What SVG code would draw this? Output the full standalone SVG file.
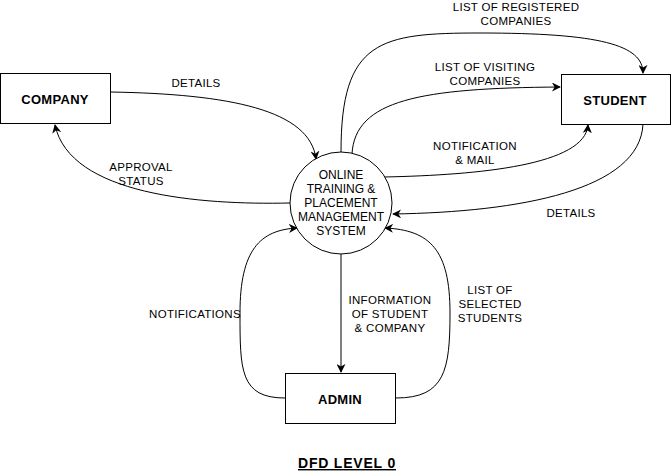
<svg xmlns="http://www.w3.org/2000/svg" width="671" height="474" viewBox="0 0 671 474">
<style>
.box{fill:#fff;stroke:#000;stroke-width:1}
.bt{font-family:"Liberation Sans",Arial,sans-serif;font-weight:bold;font-size:13px;text-anchor:middle;fill:#000;letter-spacing:0.3px}
.ct{font-family:"Liberation Sans",Arial,sans-serif;font-size:12px;text-anchor:middle;fill:#000}
.lb{font-family:"Liberation Sans",Arial,sans-serif;font-size:11.5px;text-anchor:middle;fill:#000;letter-spacing:0.3px}
.e{fill:none;stroke:#000;stroke-width:1;marker-end:url(#ar)}
</style>
<defs>
<marker id="ar" viewBox="0 0 10 10" refX="9" refY="5" markerWidth="9" markerHeight="9" orient="auto" markerUnits="userSpaceOnUse">
<path d="M0,0 L10,5 L0,10 L3,5 z" fill="#000"/>
</marker>
</defs>
<rect width="671" height="474" fill="#fff"/>
<g id="connectors">
<path class="e" d="M110,92 C230,94 310,110 316,159"/>
<path class="e" d="M290,203 C200,205 70,195 55,125"/>
<path class="e" d="M341,152 C341,40 380,33 480,33 C600,33 643,45 643,73"/>
<path class="e" d="M352,154 C355,100 420,88 560,87"/>
<path class="e" d="M384,177 C480,175 585,165 588,125"/>
<path class="e" d="M643,124 C640,190 520,212 393,214"/>
<path class="e" d="M341,254 L341,372"/>
<path class="e" d="M285,398 C240,398 240,370 240,313 C240,250 260,230 297,228"/>
<path class="e" d="M396,398 C445,398 450,370 450,313 C450,250 430,230 385,228"/>
</g>
<g id="labels">
<text class="lb" x="196" y="87">DETAILS</text>
<text class="lb" x="141" y="171">APPROVAL</text>
<text class="lb" x="141" y="185">STATUS</text>
<text class="lb" x="516" y="11">LIST OF REGISTERED</text>
<text class="lb" x="516" y="25">COMPANIES</text>
<text class="lb" x="485" y="71">LIST OF VISITING</text>
<text class="lb" x="485" y="85">COMPANIES</text>
<text class="lb" x="475" y="150">NOTIFICATION</text>
<text class="lb" x="475" y="164">&amp; MAIL</text>
<text class="lb" x="571" y="217">DETAILS</text>
<text class="lb" x="195" y="318">NOTIFICATIONS</text>
<text class="lb" x="390" y="304">INFORMATION</text>
<text class="lb" x="390" y="318">OF STUDENT</text>
<text class="lb" x="390" y="332">&amp; COMPANY</text>
<text class="lb" x="490" y="294">LIST OF</text>
<text class="lb" x="490" y="308">SELECTED</text>
<text class="lb" x="490" y="322">STUDENTS</text>
</g>
<g id="company">
<rect class="box" x="0.5" y="73.5" width="110" height="50"/>
<text class="bt" x="55" y="104">COMPANY</text>
</g>
<g id="student">
<rect class="box" x="561.5" y="74.5" width="109" height="50"/>
<text class="bt" x="615" y="105">STUDENT</text>
</g>
<g id="admin">
<rect class="box" x="285.5" y="373.5" width="110" height="50"/>
<text class="bt" x="340" y="404">ADMIN</text>
</g>
<g id="system">
<circle cx="341" cy="203" r="51" fill="#fff" stroke="#000" stroke-width="1"/>
<text class="ct" x="341" y="179">ONLINE</text>
<text class="ct" x="341" y="193">TRAINING &amp;</text>
<text class="ct" x="341" y="207">PLACEMENT</text>
<text class="ct" x="341" y="221">MANAGEMENT</text>
<text class="ct" x="341" y="235">SYSTEM</text>
</g>
<g id="title">
<text x="347" y="468" font-family="&quot;Liberation Sans&quot;,Arial,sans-serif" font-weight="bold" font-size="14" text-anchor="middle" text-decoration="underline" letter-spacing="0.8">DFD LEVEL 0</text>
</g>
</svg>
